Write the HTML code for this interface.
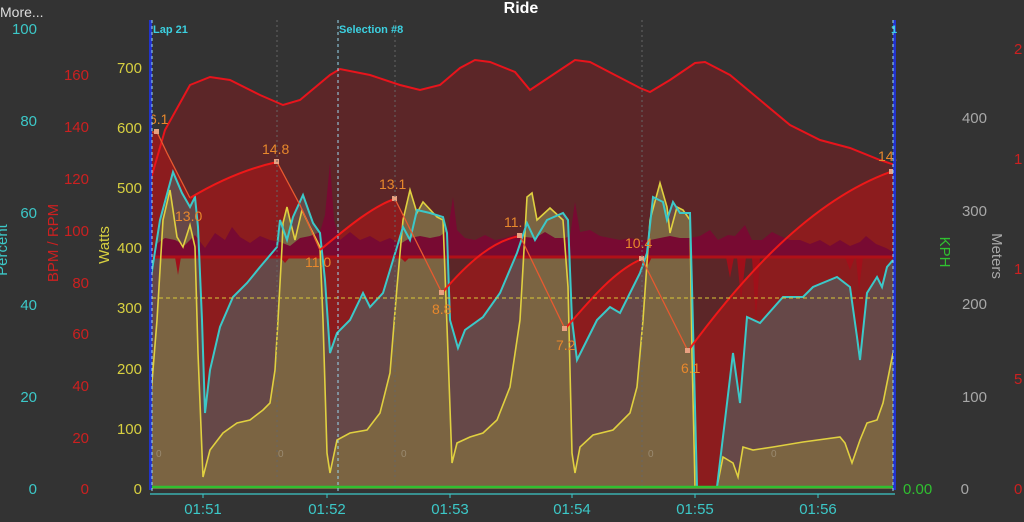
<!DOCTYPE html>
<html><head><meta charset="utf-8"><style>
html,body{margin:0;padding:0;background:#333333;}
svg{display:block;font-family:"Liberation Sans",sans-serif;}
</style></head><body>
<svg width="1024" height="522" viewBox="0 0 1024 522" xmlns="http://www.w3.org/2000/svg">
<rect width="1024" height="522" fill="#333333"/>
<text x="0" y="17" fill="#dddddd" font-size="14">More...</text>
<text x="521" y="13" fill="#ffffff" font-size="16" font-weight="bold" text-anchor="middle">Ride</text>

<!-- altitude fill -->
<path d="M150,182 L165,130 L190,85 L210,77 L230,80 L260,95 L283,105 L300,100 L330,75 L340,69 L370,75 L400,85 L420,90 L440,85 L460,68 L475,60 L490,62 L515,72 L530,90 L560,70 L575,60 L590,62 L615,75 L640,88 L650,92 L670,80 L695,63 L705,62 L730,75 L760,100 L790,125 L820,140 L850,148 L880,160 L895,165 L895,489 L150,489 Z" fill="#5c2628"/>
<!-- lap speed zigzag fill -->
<path d="M150,132 L157,132 L167,153 L190,198 C220,180 250,168 277,162 L300,205 L320,250 C350,225 375,205 395,199 L442,293 C470,260 495,240 520,236 L565,329 C590,300 615,270 642,259 L688,351 C740,280 810,200 893,171 L895,489 L150,489 Z" fill="#8c1c1e"/>

<!-- cyan fill -->
<path id="cy" d="M150,283 L160,220 L173,172 L182,193 L190,207 L195,197 L198,227 L202,320 L205,413 L210,370 L220,327 L233,297 L247,283 L260,267 L277,247 L280,220 L287,240 L293,217 L303,195 L313,223 L320,233 L325,280 L330,353 L337,333 L350,320 L363,293 L370,307 L383,293 L397,247 L403,227 L410,240 L417,210 L430,213 L443,217 L447,233 L450,320 L458,348 L465,330 L483,317 L500,293 L517,253 L527,223 L535,240 L547,220 L563,213 L568,220 L572,320 L577,360 L587,340 L597,320 L610,307 L620,313 L633,287 L640,273 L647,253 L653,197 L663,202 L667,220 L673,202 L680,213 L690,213 L692,287 L697,487 L717,487 L733,353 L740,403 L747,317 L760,323 L783,297 L803,297 L813,287 L837,277 L850,287 L857,337 L860,360 L867,293 L877,277 L882,287 L887,267 L893,260" fill="none"/>
<path d="M150,283 L160,220 L173,172 L182,193 L190,207 L195,197 L198,227 L202,320 L205,413 L210,370 L220,327 L233,297 L247,283 L260,267 L277,247 L280,220 L287,240 L293,217 L303,195 L313,223 L320,233 L325,280 L330,353 L337,333 L350,320 L363,293 L370,307 L383,293 L397,247 L403,227 L410,240 L417,210 L430,213 L443,217 L447,233 L450,320 L458,348 L465,330 L483,317 L500,293 L517,253 L527,223 L535,240 L547,220 L563,213 L568,220 L572,320 L577,360 L587,340 L597,320 L610,307 L620,313 L633,287 L640,273 L647,253 L653,197 L663,202 L667,220 L673,202 L680,213 L690,213 L692,287 L697,487 L717,487 L733,353 L740,403 L747,317 L760,323 L783,297 L803,297 L813,287 L837,277 L850,287 L857,337 L860,360 L867,293 L877,277 L882,287 L887,267 L893,260 L893,489 L150,489 Z" fill="#664848"/>

<!-- yellow fill -->
<path d="M150,407 L157,320 L163,220 L170,190 L177,237 L183,247 L190,225 L195,247 L198,353 L203,477 L210,450 L223,433 L237,423 L250,420 L263,410 L270,403 L275,370 L278,320 L282,247 L283,223 L287,207 L290,220 L295,240 L302,210 L310,227 L320,247 L323,320 L327,453 L330,473 L337,440 L350,433 L367,430 L380,413 L390,373 L397,287 L403,220 L410,190 L417,213 L423,202 L437,217 L443,220 L448,353 L452,463 L457,443 L470,437 L483,433 L497,420 L510,387 L520,320 L527,197 L532,193 L537,220 L550,208 L563,220 L568,287 L572,453 L575,473 L580,447 L593,435 L613,430 L630,413 L637,387 L643,320 L650,220 L660,183 L667,207 L670,233 L677,207 L683,210 L690,220 L692,353 L695,487 L717,487 L723,457 L733,463 L738,477 L743,447 L753,450 L773,447 L803,442 L840,437 L845,443 L852,463 L860,440 L867,423 L877,420 L883,403 L893,353 L893,489 L150,489 Z" fill="#7b6442"/>

<!-- cadence band -->
<path d="M150,257 L155,245 L165,238 L175,240 L185,245 L195,235 L205,248 L215,233 L225,240 L232,227 L240,237 L250,243 L260,236 L270,240 L280,242 L290,246 L300,238 L310,236 L320,232 L325,215 L330,163 L334,220 L340,240 L350,232 L360,240 L370,236 L380,242 L390,238 L400,244 L410,238 L420,236 L430,238 L440,236 L448,230 L453,197 L457,230 L465,238 L475,240 L485,235 L495,240 L505,238 L515,235 L525,237 L535,238 L545,232 L555,238 L565,238 L570,236 L575,202 L580,232 L590,230 L600,236 L610,238 L620,240 L630,238 L640,240 L650,240 L660,238 L670,236 L680,238 L690,238 L700,236 L710,230 L718,240 L728,235 L735,236 L745,225 L752,240 L762,240 L772,232 L780,236 L790,240 L800,240 L810,244 L820,240 L830,246 L840,240 L850,246 L860,242 L866,236 L876,244 L886,248 L893,252 L893,257 Z" fill="#780a32"/>
<path d="M150,257 L152,268 L155,257 L175,257 L178,275 L181,257 L280,257 L285,263 L290,257 L400,257 L405,262 L410,257 L645,257 L648,265 L652,257 L726,257 L730,278 L734,257 L737,257 L741,300 L746,257 L752,257 L756,320 L760,257 L845,257 L850,270 L855,257 L856,257 L859,290 L863,257 Z" fill="#a0101a"/>
<line x1="150" y1="257" x2="895" y2="257" stroke="#b01018" stroke-width="3"/>

<!-- altitude line -->
<path d="M150,182 L165,130 L190,85 L210,77 L230,80 L260,95 L283,105 L300,100 L330,75 L340,69 L370,75 L400,85 L420,90 L440,85 L460,68 L475,60 L490,62 L515,72 L530,90 L560,70 L575,60 L590,62 L615,75 L640,88 L650,92 L670,80 L695,63 L705,62 L730,75 L760,100 L790,125 L820,140 L850,148 L880,160 L895,165" fill="none" stroke="#e8141c" stroke-width="2"/>

<!-- yellow line -->
<path d="M150,407 L157,320 L163,220 L170,190 L177,237 L183,247 L190,225 L195,247 L198,353 L203,477 L210,450 L223,433 L237,423 L250,420 L263,410 L270,403 L275,370 L278,320 L282,247 L283,223 L287,207 L290,220 L295,240 L302,210 L310,227 L320,247 L323,320 L327,453 L330,473 L337,440 L350,433 L367,430 L380,413 L390,373 L397,287 L403,220 L410,190 L417,213 L423,202 L437,217 L443,220 L448,353 L452,463 L457,443 L470,437 L483,433 L497,420 L510,387 L520,320 L527,197 L532,193 L537,220 L550,208 L563,220 L568,287 L572,453 L575,473 L580,447 L593,435 L613,430 L630,413 L637,387 L643,320 L650,220 L660,183 L667,207 L670,233 L677,207 L683,210 L690,220 L692,353 L695,487 L717,487 L723,457 L733,463 L738,477 L743,447 L753,450 L773,447 L803,442 L840,437 L845,443 L852,463 L860,440 L867,423 L877,420 L883,403 L893,353" fill="none" stroke="#e0d040" stroke-width="1.6"/>
<!-- cyan line -->
<use href="#cy" stroke="#3cc8c8" stroke-width="2"/>

<!-- lap speed line -->
<path d="M150,132 L157,132 L167,153 L190,198 M277,162 L300,205 L320,250 M395,199 L442,293 M520,236 L565,329 M642,259 L688,351" fill="none" stroke="#e85a30" stroke-width="1.3"/>
<path d="M190,198 C220,180 250,168 277,162 M320,250 C350,225 375,205 395,199 M442,293 C470,260 495,240 520,236 M565,329 C590,300 615,270 642,259 M688,351 C740,280 810,200 893,171" fill="none" stroke="#ee1818" stroke-width="2"/>
<g fill="#e8a080"><rect x="154" y="129" width="5" height="5"/><rect x="274" y="159" width="5" height="5"/><rect x="392" y="196" width="5" height="5"/><rect x="439" y="290" width="5" height="5"/><rect x="517" y="233" width="5" height="5"/><rect x="562" y="326" width="5" height="5"/><rect x="639" y="256" width="5" height="5"/><rect x="685" y="348" width="5" height="5"/><rect x="889" y="169" width="5" height="5"/></g>
<g fill="#e8882c" font-size="14"><text x="149" y="124">6.1</text><text x="262" y="154">14.8</text><text x="175" y="221">13.0</text><text x="305" y="267">11.0</text><text x="379" y="189">13.1</text><text x="432" y="314">8.8</text><text x="504" y="227">11.</text><text x="556" y="350">7.2</text><text x="625" y="248">10.4</text><text x="681" y="373">6.1</text><text x="878" y="161">14.</text></g>

<!-- yellow dashed -->
<line x1="152" y1="298" x2="893" y2="298" stroke="#d8c838" stroke-width="1" stroke-dasharray="4,3"/>
<!-- grid verticals -->
<g stroke="#666" stroke-width="1" stroke-dasharray="2,3"><line x1="277" y1="20" x2="277" y2="489"/><line x1="395" y1="20" x2="395" y2="489"/><line x1="642" y1="20" x2="642" y2="489"/></g>
<g fill="#9a8a70" font-size="10"><text x="156" y="457">0</text><text x="278" y="457">0</text><text x="401" y="457">0</text><text x="648" y="457">0</text><text x="771" y="457">0</text></g>

<!-- bottom lines -->
<line x1="150" y1="487" x2="895" y2="487" stroke="#30c030" stroke-width="2.5"/>
<line x1="150" y1="494" x2="895" y2="494" stroke="#3cc8c8" stroke-width="1.2"/>
<g stroke="#3cc8c8"><line x1="203" y1="494" x2="203" y2="498"/><line x1="327" y1="494" x2="327" y2="498"/><line x1="450" y1="494" x2="450" y2="498"/><line x1="572" y1="494" x2="572" y2="498"/><line x1="695" y1="494" x2="695" y2="498"/><line x1="818" y1="494" x2="818" y2="498"/></g>
<g fill="#3cc8c8" font-size="15" text-anchor="middle"><text x="203" y="514">01:51</text><text x="327" y="514">01:52</text><text x="450" y="514">01:53</text><text x="572" y="514">01:54</text><text x="695" y="514">01:55</text><text x="818" y="514">01:56</text></g>

<!-- vertical markers -->
<rect x="149" y="20" width="3" height="470" fill="#2233cc"/>
<rect x="893" y="20" width="3" height="470" fill="#2233cc"/>
<g stroke="#9ad8f0" stroke-width="1" stroke-dasharray="3,3"><line x1="152" y1="20" x2="152" y2="492"/><line x1="338" y1="20" x2="338" y2="492"/><line x1="893" y1="20" x2="893" y2="492"/></g>
<g fill="#3cd0e0" font-size="11" font-weight="bold"><text x="153" y="33">Lap 21</text><text x="339" y="33">Selection #8</text><text x="891" y="33">1</text></g>

<!-- left axes -->
<g fill="#3cc8c8" font-size="15" text-anchor="end"><text x="37" y="34">100</text><text x="37" y="126">80</text><text x="37" y="218">60</text><text x="37" y="310">40</text><text x="37" y="402">20</text><text x="37" y="494">0</text></g>
<text transform="translate(7,250) rotate(-90)" fill="#3cc8c8" font-size="15" text-anchor="middle">Percent</text>
<g fill="#cc2020" font-size="15" text-anchor="end"><text x="89" y="80">160</text><text x="89" y="132">140</text><text x="89" y="184">120</text><text x="89" y="236">100</text><text x="89" y="288">80</text><text x="89" y="339">60</text><text x="89" y="391">40</text><text x="89" y="443">20</text><text x="89" y="494">0</text></g>
<text transform="translate(58,243) rotate(-90)" fill="#cc2020" font-size="15" text-anchor="middle">BPM / RPM</text>
<g fill="#d8d040" font-size="15" text-anchor="end"><text x="142" y="73">700</text><text x="142" y="133">600</text><text x="142" y="193">500</text><text x="142" y="253">400</text><text x="142" y="313">300</text><text x="142" y="374">200</text><text x="142" y="434">100</text><text x="142" y="494">0</text></g>
<text transform="translate(109,245) rotate(-90)" fill="#d8d040" font-size="15" text-anchor="middle">Watts</text>

<!-- right axes -->
<text x="903" y="494" fill="#30c030" font-size="15">0.00</text>
<text transform="translate(940,252) rotate(90)" fill="#30c030" font-size="15" text-anchor="middle">KPH</text>
<g fill="#a8a8a8" font-size="15" text-anchor="end"><text x="987" y="123">400</text><text x="987" y="216">300</text><text x="987" y="309">200</text><text x="987" y="402">100</text><text x="969" y="494">0</text></g>
<text transform="translate(992,256) rotate(90)" fill="#a8a8a8" font-size="15" text-anchor="middle">Meters</text>
<g fill="#cc2020" font-size="15"><text x="1014" y="54">2</text><text x="1014" y="164">1</text><text x="1014" y="274">1</text><text x="1014" y="384">5</text><text x="1014" y="494">0</text></g>
</svg>
</body></html>
